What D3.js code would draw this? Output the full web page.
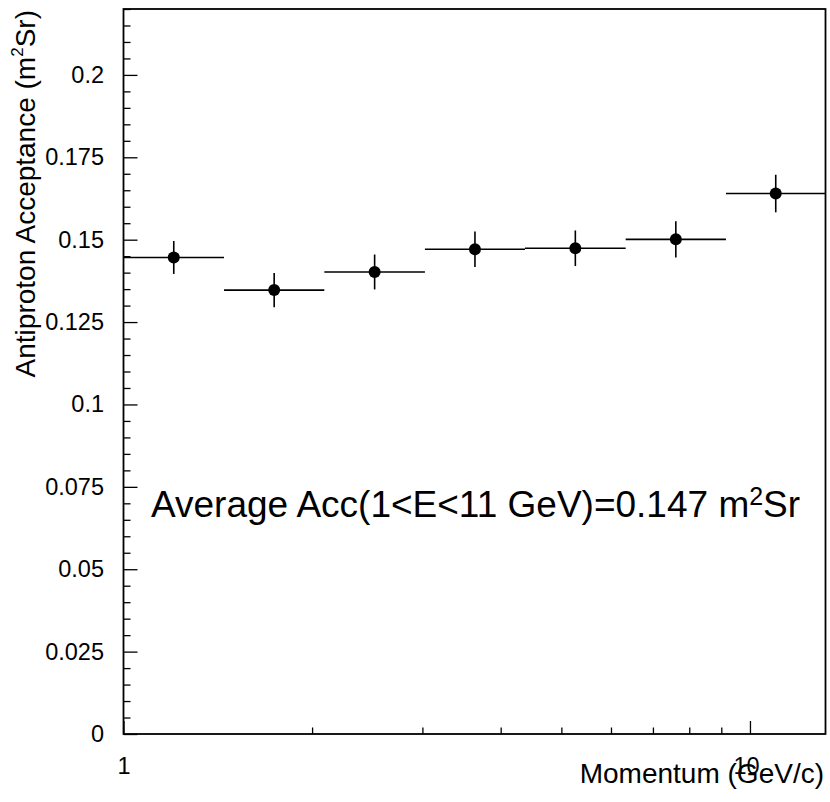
<!DOCTYPE html>
<html>
<head>
<meta charset="utf-8">
<script src="https://cdn.jsdelivr.net/npm/d3@7"></script>
<style>
  body { margin: 0; background: #fff; }
  svg { display: block; background: #fff; }
  text { font-family: "Liberation Sans", Arial, Helvetica, sans-serif; fill: #000; }
</style>
</head>
<body>
<svg id="chart" width="830" height="802"></svg>
<script>
// Momentum bins (GeV/c), equal width in log10(p)
const binEdges = [1, 1.447, 2.092, 3.028, 4.374, 6.333, 9.156, 13.2];
// Antiproton acceptance per bin (m^2 Sr) and its uncertainty
const acceptance    = [0.1446, 0.1347, 0.1402, 0.1471, 0.1474, 0.1501, 0.1640];
const acceptanceErr = [0.0050, 0.0052, 0.0053, 0.0054, 0.0054, 0.0055, 0.0057];

// Axis ticks and labels
const yMajorTicks  = [0, 0.025, 0.05, 0.075, 0.1, 0.125, 0.15, 0.175, 0.2];
const yTickLabels  = ["0", "0.025", "0.05", "0.075", "0.1", "0.125", "0.15", "0.175", "0.2"];
const yMinorStep   = 0.005;
const xMajorTicks  = [1, 10];
const xTickLabels  = ["1", "10"];
const xMinorTicks  = [2, 3, 4, 5, 6, 7, 8, 9];

const xDomain = [1, 13.2];
const yDomain = [0, 0.22];

const svg = d3.select("#chart");
const frame = { left: 123.5, right: 825.5, top: 9, bottom: 734 };

const x = d3.scaleLog().domain(xDomain).range([frame.left, frame.right]);
const y = d3.scaleLinear().domain(yDomain).range([frame.bottom, frame.top]);

const bins = acceptance.map((v, i) => ({
  lo: binEdges[i],
  hi: binEdges[i + 1],
  mid: Math.sqrt(binEdges[i] * binEdges[i + 1]),
  v: v,
  e: acceptanceErr[i]
}));

// ---- axes ----
const yMinorTicks = d3.range(0, yDomain[1] + 1e-9, yMinorStep)
  .filter(t => !yMajorTicks.some(m => Math.abs(m - t) < 1e-9));

const yMinorAxis = svg.append("g")
  .attr("transform", `translate(${frame.left},0)`)
  .call(d3.axisLeft(y).tickValues(yMinorTicks).tickSize(-7).tickSizeOuter(0).tickFormat(""));

const yAxis = svg.append("g")
  .attr("transform", `translate(${frame.left},0)`)
  .call(d3.axisLeft(y).tickValues(yMajorTicks).tickSize(-14).tickSizeOuter(0)
    .tickPadding(19.5).tickFormat((d, i) => yTickLabels[i]));

const xMinorAxis = svg.append("g")
  .attr("transform", `translate(0,${frame.bottom})`)
  .call(d3.axisBottom(x).tickValues(xMinorTicks).tickSize(-6.5).tickSizeOuter(0).tickFormat(""));

const xAxis = svg.append("g")
  .attr("transform", `translate(0,${frame.bottom})`)
  .call(d3.axisBottom(x).tickValues(xMajorTicks).tickSize(-13).tickSizeOuter(0)
    .tickPadding(23).tickFormat((d, i) => xTickLabels[i]));

[yMinorAxis, yAxis, xMinorAxis, xAxis].forEach(g => {
  g.select(".domain").remove();
  g.selectAll(".tick line").attr("stroke", "#000").attr("stroke-width", 1.3);
  g.selectAll(".tick text").attr("font-size", 23.5).attr("font-family", null);
});
xAxis.selectAll(".tick text").attr("dx", (d) => d === 10 ? -4 : 0);

// frame
svg.append("rect")
  .attr("x", frame.left).attr("y", frame.top)
  .attr("width", frame.right - frame.left).attr("height", frame.bottom - frame.top)
  .attr("fill", "none").attr("stroke", "#000").attr("stroke-width", 1.8);

// ---- data: bin widths, error bars, markers ----
const data = svg.append("g").attr("stroke", "#000").attr("stroke-width", 1.6);

data.selectAll("line.hbar").data(bins).join("line")
  .attr("class", "hbar")
  .attr("x1", d => x(d.lo)).attr("x2", d => x(d.hi))
  .attr("y1", d => y(d.v)).attr("y2", d => y(d.v));

data.selectAll("line.vbar").data(bins).join("line")
  .attr("class", "vbar")
  .attr("x1", d => x(d.mid)).attr("x2", d => x(d.mid))
  .attr("y1", d => y(d.v - d.e)).attr("y2", d => y(d.v + d.e));

svg.append("g").selectAll("circle").data(bins).join("circle")
  .attr("cx", d => x(d.mid)).attr("cy", d => y(d.v))
  .attr("r", 6).attr("fill", "#000");

// ---- titles ----
svg.append("text")
  .attr("x", 824).attr("y", 783)
  .attr("text-anchor", "end").attr("font-size", 28)
  .text("Momentum (GeV/c)");

const yTitle = svg.append("text")
  .attr("transform", "translate(35,10) rotate(-90)")
  .attr("text-anchor", "end").attr("font-size", 28);
yTitle.append("tspan").text("Antiproton Acceptance (m");
yTitle.append("tspan").attr("font-size", 17).attr("dy", -12).text("2");
yTitle.append("tspan").attr("dy", 12).text("Sr)");

const note = svg.append("text")
  .attr("x", 151).attr("y", 517).attr("font-size", 37);
note.append("tspan").text("Average Acc(1<E<11 GeV)=0.147 m");
note.append("tspan").attr("font-size", 25).attr("dy", -12).text("2");
note.append("tspan").attr("dy", 12).text("Sr");
</script>
</body>
</html>
